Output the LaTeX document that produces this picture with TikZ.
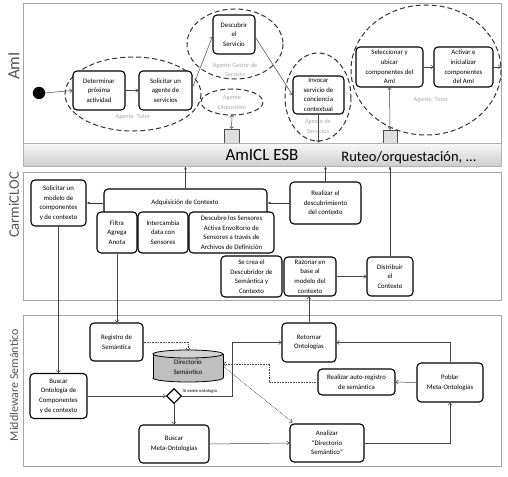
\documentclass[tikz,border=0pt]{standalone}
\usepackage{fontspec}
\setmainfont{Carlito}
\usetikzlibrary{arrows.meta,shapes.geometric,calc}
\tikzset{
  box/.style={draw=black, line width=1.1pt, rounded corners=4pt, fill=white, align=center, inner sep=1pt, font=\fontsize{6.8}{9.6}\selectfont},
  frame/.style={draw=gray!70, line width=0.9pt, inner sep=0pt},
  agent/.style={draw=gray!40!black, dash pattern=on 5pt off 3pt, line width=1pt},
  alabel/.style={text=gray!65, align=center, font=\fontsize{6.3}{9.5}\selectfont, inner sep=0pt},
  sidelabel/.style={text=gray!65!black, rotate=90, inner sep=0pt},
  arr/.style={draw=gray!55!black, line width=0.5pt, -{To[length=3pt,width=4.5pt]}},
  darr/.style={draw=gray!55!black, line width=0.5pt, {To[length=2.5pt,width=4pt]}-{To[length=2.5pt,width=4pt]}},
  barr/.style={draw=gray!45!black, line width=0.5pt, -{Latex[length=3pt,width=2.6pt]}},
  dotarr/.style={draw=gray!55!black, line width=0.6pt, densely dotted, -{To[length=3pt,width=4.5pt]}},
  sq/.style={draw=gray!60!black, fill=gray!25, line width=0.5pt, minimum width=15pt, minimum height=14pt, inner sep=0pt}
}
\begin{document}
\begin{tikzpicture}[x=1pt,y=-1pt]
\useasboundingbox (0,0) rectangle (508,476);
\fill[white] (0,0) rectangle (508,476);

% ---------------- frames ----------------
\node[frame, minimum width=478pt, minimum height=142pt] (fa) at (262,74) {};
\node[frame, minimum width=478pt, minimum height=128pt] (fc) at (262,236) {};
\node[frame, minimum width=478pt, minimum height=151pt] (fm) at (262,390.5) {};

\node[sidelabel, font=\fontsize{17}{17}\selectfont] (lami) at (14,66) {AmI};
\node[sidelabel, font=\fontsize{14.5}{14.5}\selectfont] (lcar) at (14,205) {CarmiCLOC};
\node[sidelabel, font=\fontsize{12}{12}\selectfont] (lmid) at (14,385) {Middleware Semántico};

% ---------------- AmI ----------------
\draw[agent] (133,94) ellipse (68 and 37);
\draw[agent] (235,44) ellipse (48 and 35);
\draw[agent] (232,102) ellipse (31 and 13);
\draw[agent] (318,97) ellipse (33 and 44);
\draw[agent] (426,70) ellipse (75 and 65);
\coordinate (e3s) at (232,115);

\node[alabel] (lt1) at (133,117) {Agente\ \ Tutor};
\node[alabel] (lg) at (235,70) {Agente Gestor de\\Servicio};
\node[alabel] (ld) at (232,103) {Agente\\Dispositivo};
\node[alabel] (ls) at (318,126.5) {Agente de\\Servicios};
\node[alabel] (lt2) at (431,100) {Agente\ \ Tutor};

\fill[black] (39,93) circle (6.2);
\coordinate (start) at (45,93);

\node[box, minimum width=52pt, minimum height=39pt] (det) at (99,90.5) {Determinar\\próxima\\actividad};
\node[box, minimum width=53pt, minimum height=39pt] (sol) at (165.5,90.5) {Solicitar un\\agente de\\servicios};
\node[box, minimum width=42pt, minimum height=39pt] (desc) at (234,34.5) {Descubrir\\el\\Servicio};
\node[box, minimum width=51pt, minimum height=38pt] (inv) at (318.5,95) {Invocar\\servicio de\\conciencia\\contextual};
\node[box, minimum width=67pt, minimum height=40pt] (sel) at (389.5,67) {Seleccionar y\\ubicar\\componentes del\\AmI};
\node[box, minimum width=59pt, minimum height=40pt] (act) at (463.5,67) {Activar e\\inicializar\\componentes\\del AmI};

\node[sq] (sq1) at (231.5,136) {};
\node[sq, minimum width=14pt, minimum height=13pt] (sq2) at (390,136.5) {};

% ESB bar
\node[draw=gray!60, top color=gray!6, bottom color=gray!38, line width=0.6pt, minimum width=478pt, minimum height=23pt, inner sep=0pt] (esb) at (262,154.5) {};
\node[font=\fontsize{17}{17}\selectfont, inner sep=0pt] (esbt) at (262,155) {AmICL ESB};
\node[font=\fontsize{14.5}{14.5}\selectfont, inner sep=0pt] (rut) at (409,157.5) {Ruteo/orquestación, ...};

\coordinate (actout) at (501,67);
\draw[arr] (start) -- (det.west);
\draw[arr] (det.east) -- (sol.east -| sol.west);
\draw[arr] ($(sol.east)+(0,-3)$) -- ($(desc.west)+(0,2)$);
\draw[arr] ($(desc.east)+(0,3)$) -- (inv.west);
\draw[arr] (sel.east) -- (act.west);
\draw[arr] (act.east) -- (actout);
\draw[darr] (e3s) -- (sq1.north);
\draw[darr] (sel.south) -- (sq2.north);
\draw[arr] (inv.south) -- (inv.south |- esb.north);

% ---------------- CarmiCLOC ----------------
\node[box, minimum width=55pt, minimum height=46pt] (solm) at (58.5,203) {Solicitar un\\modelo de\\componentes\\y de contexto};
\node[box, minimum width=163pt, minimum height=51pt] (adq) at (185.5,214.5) {};
\node[inner sep=0pt, font=\fontsize{6.8}{9.6}\selectfont] (adqt) at (185,202.5) {Adquisición de Contexto};
\node[box, minimum width=40pt, minimum height=41pt] (fil) at (117,232.5) {Filtra\\Agrega\\Anota};
\node[box, minimum width=50pt, minimum height=41pt] (int) at (163,232.5) {Intercambia\\data con\\Sensores};
\node[box, minimum width=85pt, minimum height=41pt] (dsc) at (231.5,232.5) {Descubre los Sensores\\Activa Envoltorio de\\Sensores a través de\\Archivos de Definición};
\node[box, minimum width=61pt, minimum height=41pt] (secrea) at (251.5,276.5) {Se crea el\\Descubridor de\\Semántica y\\Contexto};
\node[box, minimum width=52pt, minimum height=39pt] (raz) at (310,276.5) {Razonar en\\base al\\modelo del\\contexto};
\node[box, minimum width=71pt, minimum height=42pt] (real) at (325.5,203) {Realizar el\\descubrimiento\\del contexto};
\node[box, minimum width=46pt, minimum height=39pt] (dist) at (390,276.5) {Distribuir\\el\\Contexto};

\draw[barr] (solm.east -| adq.west) -- (solm.east);
\draw[barr] (real.west) -- (real.west -| adq.east);
\draw[barr] (adq.north) -- (adq.north |- esb.south);
\draw[barr] (real.north) -- (real.north |- esb.south);
\draw[barr] (dist.north) -- (dist.north |- esb.south);
\draw[arr] (raz.east) -- (dist.west);

% ---------------- Middleware ----------------
\node[box, minimum width=53pt, minimum height=38pt] (reg) at (116.5,342) {Registro de\\Semántica};
\node[box, minimum width=57pt, minimum height=45pt] (bo) at (58.5,396) {Buscar\\Ontología de\\Componentes\\y de contexto};
\node[draw=black, line width=1.1pt, diamond, fill=white, minimum size=15pt, inner sep=0pt] (dia) at (174,396) {};
\node[inner sep=0pt, anchor=south west, font=\fontsize{4.6}{5}\selectfont] (siex) at (183,393.5) {Si existe ontología};
\node[box, minimum width=70pt, minimum height=38pt] (bm) at (174,444) {Buscar\\Meta-Ontologías};
\node[box, minimum width=54pt, minimum height=39pt] (ret) at (309,342.5) {Retornar\\Ontologías};
\node[box, minimum width=77pt, minimum height=26pt] (auto) at (356.5,382) {Realizar auto-registro\\de semántica};
\node[box, minimum width=66pt, minimum height=39pt] (pob) at (450,382.5) {Poblar\\Meta-Ontologías};
\node[box, minimum width=74pt, minimum height=38pt] (ana) at (327,443) {Analizar\\“Directorio\\Semántico”};

% cylinder
\filldraw[fill=gray!50, draw=black, line width=0.8pt] (188,378) ellipse (35 and 4);
\fill[gray!50] (153,354) rectangle (223,378);
\draw[line width=0.8pt] (153,354) -- (153,378) (223,354) -- (223,378);
\filldraw[fill=gray!35, draw=black, line width=0.8pt] (188,354) ellipse (35 and 4);
\node[inner sep=0pt, minimum width=70pt, minimum height=32pt, align=center, font=\fontsize{6.8}{9.6}\selectfont] (dir) at (188,367) {Directorio\\Semántico};

% connectors crossing sections
\draw[arr] (solm.south) -- (bo.north);
\draw[arr] (fil.south) -- (fil.south |- reg.north);
\draw[arr] (ret.north) -- (ret.north |- raz.south);

% middleware connectors
\draw[dotarr] (reg.east) -| (dir.north);
\draw[arr] (bo.east) -- (dia.west);
\draw[arr] (dia.south) -- (bm.north);
\draw[arr] (dia.east) -- ++(50,0) |- (ret.west);
\draw[dotarr] (auto.west) -- ++(-48,0) |- ($(dir.east)+(0,-3)$);
\draw[dotarr] ($(dir.east)+(1,0)$) -- ($(ana.north west)+(3,-1)$);
\draw[arr] (bm.east) -- (ana.west);
\draw[arr] (ana.east) -| (pob.south);
\draw[arr] (pob.north) |- (ret.east);
\draw[arr] (pob.west) -- (auto.east);
\end{tikzpicture}
\end{document}
